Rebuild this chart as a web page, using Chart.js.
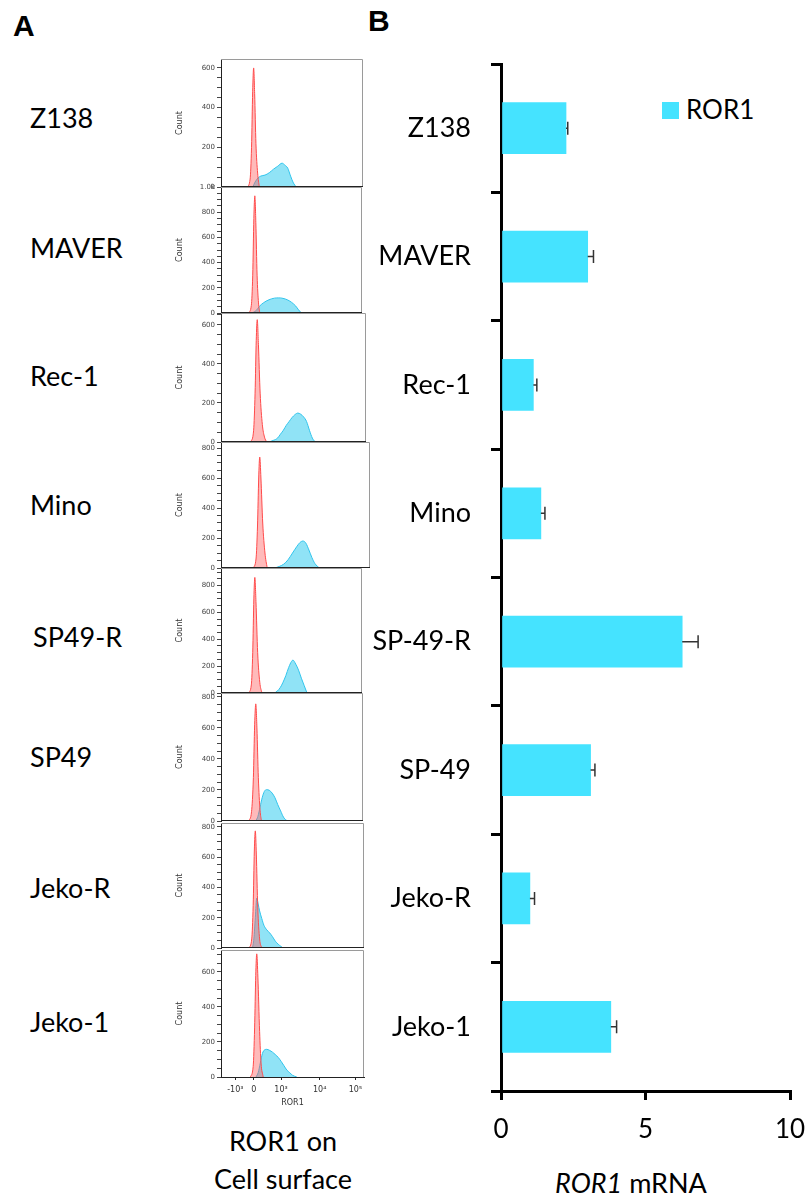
<!DOCTYPE html>
<html>
<head>
<meta charset="utf-8">
<script src="https://cdn.jsdelivr.net/npm/chart.js@4.4.1/dist/chart.umd.min.js"></script>
<style>
  body { margin: 0; background: #fff; }
  #page { position: relative; width: 812px; height: 1197px; overflow: hidden; font-family: Lato, sans-serif; color: #000; }
  .lbl { position: absolute; font-size: 27px; line-height: 1; white-space: nowrap; }
  .panel { position: absolute; font-family: 'Liberation Sans', Arial, sans-serif; font-weight: bold; font-size: 30px; line-height: 1; }
  canvas { position: absolute; }
</style>
</head>
<body>
<div id="page">
  <div class="panel" style="left:13px; top:11px;">A</div>
  <div class="panel" style="left:368px; top:6px;">B</div>
  <div class="lbl" style="left:183px; top:1122px; width:200px; text-align:center; line-height:38px;">ROR1 on<br>Cell surface</div>
  <div class="lbl" style="left:531px; top:1169px; width:200px; text-align:center;"><i>ROR1</i> mRNA</div>
  <div style="position:absolute; left:662px; top:102px; width:17px; height:17px; background:#45E3FF;"></div>
  <div class="lbl" style="left:686px; top:96px; font-size:26px;">ROR1</div>
</div>
<script>
/*================== panel B data =========================*/
const barLabels = ['Z138', 'MAVER', 'Rec-1', 'Mino', 'SP-49-R', 'SP-49', 'Jeko-R', 'Jeko-1'];
const barValues = [2.25, 3.0, 1.12, 1.38, 6.27, 3.1, 1.0, 3.8];
const barErrors = [0.06, 0.2, 0.12, 0.14, 0.55, 0.15, 0.16, 0.2];
const mrnaTicks = [0, 5, 10];

/*================== panel A data =========================*/
const histLabels = ['Z138', 'MAVER', 'Rec-1', 'Mino', 'SP49-R', 'SP49', 'Jeko-R', 'Jeko-1'];
const countMax = [645, 1000, 660, 840, 930, 825, 825, 725];
const surfaceTickPos = [10, 23, 42, 69, 94];
const surfaceTickText = ['-10³', '0', '10³', '10⁴', '10⁵'];

// [ROR1 display position, count]; red = control, blue = ROR1
const redZ138 = [[18.5,0],[20.5,40],[21.5,200],[22.3,480],[23,600],[23.7,470],[24.6,220],[25.8,70],[27,0]];
const blueZ138 = [[22.4,0],[24,25],[26,45],[28,55],[31,60],[34,72],[37,90],[40,105],[43,120],[45,110],[47,95],[49,55],[51,20],[53,0]];
const redMaver = [[19.5,0],[21.5,60],[22.5,300],[23.3,750],[24,930],[24.7,720],[25.6,300],[26.6,80],[27.5,0]];
const blueMaver = [[22,0],[25,20],[27,50],[30,80],[34,105],[38,118],[41,120],[44,116],[47,105],[50,85],[53,55],[55,25],[57,0]];
const redRec1 = [[20.5,0],[22.5,60],[23.5,250],[24.3,520],[25,626],[25.8,500],[27,250],[28.5,90],[30,25],[31.5,0]];
const blueRec1 = [[33,0],[36,8],[39,20],[41,40],[43,60],[45,85],[47,105],[49,125],[51,140],[53,148],[55,142],[57,128],[59,105],[61,60],[63,20],[65,0]];
const redMino = [[21.5,0],[23.5,60],[24.5,280],[25.3,600],[26,740],[26.8,600],[28,300],[29.5,100],[31,0]];
const blueMino = [[36,0],[39,10],[42,25],[45,55],[48,100],[51,145],[53,170],[55,180],[57,165],[59,120],[61,70],[63,30],[66,0]];
const redSp49r = [[19.5,0],[21.5,60],[22.5,300],[23.3,700],[24,860],[24.8,680],[26,300],[27.5,80],[29,0]];
const blueSp49r = [[38,0],[40,15],[42,40],[44,80],[46,130],[48,190],[50,235],[51,245],[53,215],[55,170],[57,110],[59,55],[61,0]];
const redSp49 = [[19.5,0],[21.5,60],[22.8,280],[23.7,620],[24.5,755],[25.3,600],[26.3,280],[27.5,70],[28.5,0]];
const blueSp49 = [[24.5,0],[26,30],[27.5,90],[29,150],[30.5,190],[32,202],[34,198],[36,180],[38,150],[40,105],[42,65],[44,25],[46,5],[47.5,0]];
const redJekoR = [[19.5,0],[21.5,60],[22.5,280],[23.3,640],[24,773],[24.7,620],[25.7,270],[27,60],[28.5,0]];
const blueJekoR = [[22,0],[23,60],[24,200],[25,330],[26,290],[27,245],[28.5,195],[30,150],[32,120],[34,100],[36,75],[38,45],[40,25],[42,10],[43.5,0]];
const redJeko1 = [[20.5,0],[22.5,60],[23.5,280],[24.3,580],[25,703],[25.8,570],[27,260],[28,80],[29.5,0]];
const blueJeko1 = [[24.5,0],[26,25],[27.5,80],[29,135],[30.5,155],[32,158],[34,152],[36,142],[38,128],[40,112],[42,90],[44,65],[46,40],[48,25],[50,10],[53,0]];

const redSets = [redZ138, redMaver, redRec1, redMino, redSp49r, redSp49, redJekoR, redJeko1];
const blueSets = [blueZ138, blueMaver, blueRec1, blueMino, blueSp49r, blueSp49, blueJekoR, blueJeko1];

/*================== layout =========================*/
const boxTop = [59, 187, 313, 442, 568, 693, 823, 950];
const boxBottom = [187, 313, 442, 568, 693, 821, 948, 1077];
const boxRight = [363, 362, 366, 370, 362, 363, 364, 364];
const labelX = [30, 30, 30, 30, 33, 30, 30, 30];
const labelY = [118, 248, 376, 505, 637, 757, 888, 1022];

const page = document.getElementById('page');
const AXIS_LEFT = 165, PLOT_LEFT = 221, PAD = 6, XAXIS_H = 40;
const BAR_COLOR = '#45E3FF';

// no extra room for half labels, the canvases are placed by hand
function noScalePadding(s) {
  s.paddingTop = 0; s.paddingBottom = 0; s.paddingLeft = 0; s.paddingRight = 0;
}

// gray frame round each histogram
const boxPlugin = {
  id: 'box',
  afterDraw(chart, args, opts) {
    const { ctx, chartArea: a } = chart;
    ctx.save();
    ctx.lineWidth = 1;
    ctx.strokeStyle = '#9a9a9a';
    ctx.beginPath();
    ctx.moveTo(a.left, a.top + 0.5);
    ctx.lineTo(a.right - 0.5, a.top + 0.5);
    ctx.lineTo(a.right - 0.5, a.bottom);
    ctx.stroke();
    if (!opts.hasAxis) {
      ctx.strokeStyle = '#222';
      ctx.beginPath();
      ctx.moveTo(a.left, a.bottom - 0.5);
      ctx.lineTo(a.right, a.bottom - 0.5);
      ctx.stroke();
    }
    ctx.restore();
  }
};

histLabels.forEach((name, i) => {
  const last = i === histLabels.length - 1;

  let lbl = document.createElement('div');
  lbl.className = 'lbl';
  lbl.style.left = labelX[i] + 'px';
  lbl.style.top = (labelY[i] - 14) + 'px';
  lbl.textContent = name;
  page.appendChild(lbl);

  let cv = document.createElement('canvas');
  let w = boxRight[i] - AXIS_LEFT + 4;
  let h = boxBottom[i] - boxTop[i] + PAD + (last ? XAXIS_H : PAD);
  cv.width = w; cv.height = h;
  cv.style.width = w + 'px'; cv.style.height = h + 'px';
  cv.style.left = AXIS_LEFT + 'px';
  cv.style.top = (boxTop[i] - PAD) + 'px';
  page.appendChild(cv);

  new Chart(cv, {
    type: 'line',
    data: {
      datasets: [{
        data: redSets[i],
        fill: 'origin',
        backgroundColor: 'rgba(255, 90, 90, 0.42)',
        borderColor: '#ff4a4a',
        borderWidth: 1,
        pointRadius: 0,
        cubicInterpolationMode: 'monotone'
      }, {
        data: blueSets[i],
        fill: 'origin',
        backgroundColor: 'rgba(70, 208, 240, 0.6)',
        borderColor: '#30c4ec',
        borderWidth: 1,
        pointRadius: 0,
        cubicInterpolationMode: 'monotone'
      }]
    },
    options: {
      responsive: false,
      maintainAspectRatio: false,
      animation: false,
      devicePixelRatio: 1,
      layout: { padding: { top: PAD, bottom: last ? 0 : PAD, left: 0, right: 4 } },
      plugins: {
        legend: { display: false },
        tooltip: { enabled: false },
        box: { hasAxis: last }
      },
      scales: {
        x: {
          type: 'linear', min: 0, max: 100, display: last,
          afterBuildTicks: s => { s.ticks = surfaceTickPos.map(v => ({ value: v })); },
          afterFit: s => { noScalePadding(s); if (last) s.height = XAXIS_H; },
          ticks: {
            autoSkip: false, maxRotation: 0, padding: 5,
            font: { family: 'DejaVu Sans', size: 8 }, color: '#333',
            callback: (v, idx) => surfaceTickText[idx]
          },
          grid: { drawOnChartArea: false, tickLength: 3, color: '#222' },
          border: { color: '#222', width: 1 },
          title: { display: true, text: 'ROR1', font: { family: 'DejaVu Sans', size: 8 }, color: '#333', padding: { top: 0, bottom: 9 } }
        },
        y: {
          min: 0, max: countMax[i],
          afterFit: s => { noScalePadding(s); s.width = PLOT_LEFT - AXIS_LEFT; },
          ticks: {
            stepSize: 50, autoSkip: false, includeBounds: false, padding: 2,
            font: { family: 'DejaVu Sans', size: 7 }, color: '#444',
            callback: v => v % 200 !== 0 ? '' : (v >= 1000 ? (v / 1000).toFixed(1) + 'k' : v)
          },
          grid: { drawOnChartArea: false, tickLength: 4, color: '#444' },
          border: { color: '#222', width: 1 },
          title: { display: true, text: 'Count', font: { family: 'DejaVu Sans', size: 8 }, color: '#333', padding: { top: 10, bottom: 0 } }
        }
      }
    },
    plugins: [boxPlugin]
  });
});

/*================== panel B bar chart =========================*/
// error whisker to the right of each bar, with a cap
const errorBars = {
  id: 'errorBars',
  afterDatasetsDraw(chart) {
    const { ctx } = chart;
    const xs = chart.scales.x;
    const meta = chart.getDatasetMeta(0);
    ctx.save();
    ctx.strokeStyle = '#333';
    ctx.lineWidth = 1.5;
    meta.data.forEach((bar, i) => {
      let x0 = xs.getPixelForValue(barValues[i]);
      let x1 = xs.getPixelForValue(barValues[i] + barErrors[i]);
      ctx.beginPath();
      ctx.moveTo(x0, bar.y);
      ctx.lineTo(x1, bar.y);
      ctx.moveTo(x1, bar.y - 6.5);
      ctx.lineTo(x1, bar.y + 6.5);
      ctx.stroke();
    });
    ctx.restore();
  }
};

let barCanvas = document.createElement('canvas');
barCanvas.width = 442; barCanvas.height = 1157;
barCanvas.style.width = '442px'; barCanvas.style.height = '1157px';
barCanvas.style.left = '370px'; barCanvas.style.top = '40px';
page.appendChild(barCanvas);

new Chart(barCanvas, {
  type: 'bar',
  data: {
    labels: barLabels,
    datasets: [{
      label: 'ROR1',
      data: barValues,
      backgroundColor: BAR_COLOR,
      barThickness: 51
    }]
  },
  options: {
    indexAxis: 'y',
    responsive: false,
    maintainAspectRatio: false,
    animation: false,
    devicePixelRatio: 1,
    layout: { padding: { top: 24, right: 22, left: 0, bottom: 0 } },
    plugins: { legend: { display: false }, tooltip: { enabled: false } },
    scales: {
      x: {
        min: 0, max: 10,
        afterBuildTicks: s => { s.ticks = mrnaTicks.map(v => ({ value: v })); },
        afterFit: s => { noScalePadding(s); s.height = 106; },
        ticks: { font: { family: 'Lato', size: 26 }, color: '#000', padding: 14 },
        grid: { drawOnChartArea: false, tickLength: 9, color: '#000', lineWidth: 3 },
        border: { color: '#000', width: 3 }
      },
      y: {
        afterFit: s => { noScalePadding(s); s.width = 131; },
        ticks: { font: { family: 'Lato', size: 27 }, color: '#000', padding: 20 },
        grid: { drawOnChartArea: false, offset: true, tickLength: 10, color: '#000', lineWidth: 3 },
        border: { color: '#000', width: 3 }
      }
    }
  },
  plugins: [errorBars]
});
</script>
</body>
</html>
